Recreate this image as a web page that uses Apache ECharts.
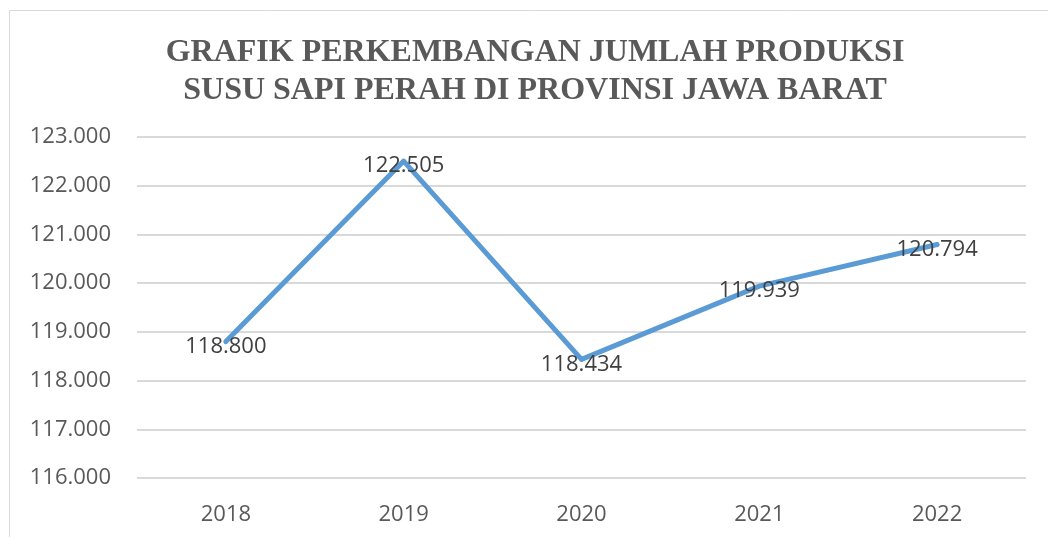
<!DOCTYPE html>
<html>
<head>
<meta charset="utf-8">
<script src="https://cdn.jsdelivr.net/npm/echarts@6/dist/echarts.min.js"></script>
<style>
  html, body { margin: 0; padding: 0; background: #fff; }
  #main { width: 1048px; height: 537px; }
</style>
</head>
<body>
<div id="main"></div>
<script>
// data
var years = ['2018', '2019', '2020', '2021', '2022'];
var produksi = [118800, 122505, 118434, 119939, 120794];
var titleLines = ['GRAFIK PERKEMBANGAN JUMLAH PRODUKSI', 'SUSU SAPI PERAH DI PROVINSI JAWA BARAT'];

function fmt(v) {
  // 118800 -> 118.800
  return String(Math.round(v)).replace(/\B(?=(\d{3})+(?!\d))/g, '.');
}

var chart = echarts.init(document.getElementById('main'), null, { renderer: 'canvas' });

var option = {
  backgroundColor: '#fff',
  animation: false,
  title: {
    text: titleLines.join('\n'),
    left: 530,
    top: 29,
    textAlign: 'center',
    textStyle: {
      fontFamily: '"Liberation Serif", "Times New Roman", serif',
      fontWeight: 'bold',
      fontSize: 32,
      lineHeight: 38,
      color: '#595959'
    }
  },
  graphic: [{
    type: 'rect',
    shape: { x: 9.5, y: 10.5, width: 1200, height: 700 },
    style: { fill: 'none', stroke: '#d9d9d9', lineWidth: 1 },
    silent: true
  }],
  grid: {
    left: 137,
    right: 22,
    top: 137,
    bottom: 59
  },
  xAxis: {
    type: 'category',
    data: years,
    boundaryGap: true,
    axisLine: { show: false },
    axisTick: { show: false },
    axisLabel: {
      margin: 26,
      fontSize: 22,
      color: '#595959',
      fontFamily: '"Open Sans", "Noto Sans", sans-serif'
    }
  },
  yAxis: {
    type: 'value',
    min: 116000,
    max: 123000,
    interval: 1000,
    axisLine: { show: false },
    axisTick: { show: false },
    axisLabel: {
      margin: 26,
      fontSize: 22,
      color: '#595959',
      fontFamily: '"Open Sans", "Noto Sans", sans-serif',
      formatter: fmt
    },
    splitLine: { lineStyle: { color: '#d9d9d9', width: 2 } }
  },
  series: [{
    type: 'line',
    data: produksi,
    symbol: 'circle',
    symbolSize: 4,
    showSymbol: true,
    itemStyle: { color: '#5b9bd5' },
    lineStyle: { color: '#5b9bd5', width: 5, cap: 'round', join: 'round' },
    label: {
      show: true,
      position: 'inside',
      offset: [0, 5],
      fontSize: 22,
      color: '#404040',
      fontFamily: '"Open Sans", "Noto Sans", sans-serif',
      formatter: function (p) { return fmt(p.value); }
    }
  }]
};

chart.setOption(option);
</script>
</body>
</html>
